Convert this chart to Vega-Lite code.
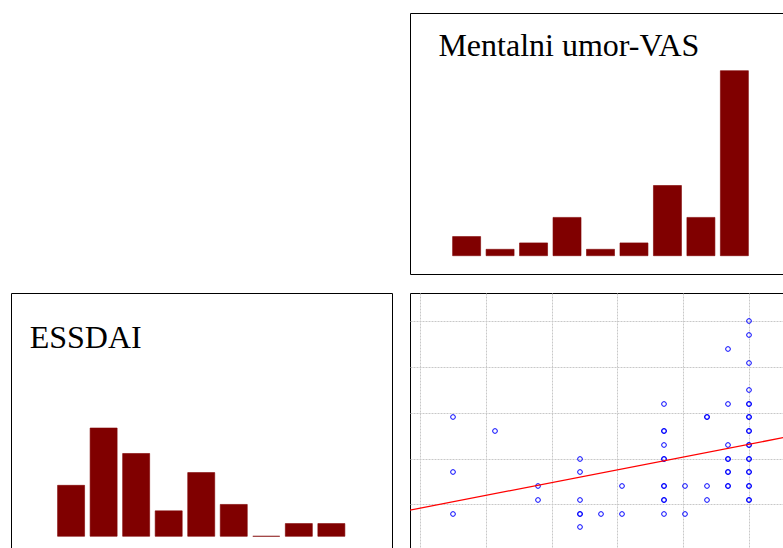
{
  "$schema": "https://vega.github.io/schema/vega-lite/v6.json",
  "padding": {"left": 10, "top": 12, "right": 0, "bottom": 0},
  "background": "white",
  "config": {
    "view": {"stroke": "black", "strokeWidth": 1},
    "axis": {"minExtent": 0, "maxExtent": 0}
  },
  "datasets": {
    "vas_hist": [
      {"bin": 1, "count": 3}, {"bin": 2, "count": 1}, {"bin": 3, "count": 2},
      {"bin": 4, "count": 6}, {"bin": 5, "count": 1}, {"bin": 6, "count": 2},
      {"bin": 7, "count": 11}, {"bin": 8, "count": 6}, {"bin": 9, "count": 29}
    ],
    "essdai_hist": [
      {"bin": 1, "count": 8}, {"bin": 2, "count": 17}, {"bin": 3, "count": 13},
      {"bin": 4, "count": 4}, {"bin": 5, "count": 10}, {"bin": 6, "count": 5},
      {"bin": 7, "count": 0}, {"bin": 8, "count": 2}, {"bin": 9, "count": 2}
    ],
    "scatter": [
      {"vas": 3, "essdai": 8}, {"vas": 3, "essdai": 4}, {"vas": 3, "essdai": 1},
      {"vas": 4, "essdai": 7},
      {"vas": 5, "essdai": 3}, {"vas": 5, "essdai": 2},
      {"vas": 6, "essdai": 5}, {"vas": 6, "essdai": 4}, {"vas": 6, "essdai": 2}, {"vas": 6, "essdai": 1}, {"vas": 6, "essdai": 0}, {"vas": 6, "essdai": 1},
      {"vas": 6.5, "essdai": 1},
      {"vas": 7, "essdai": 3}, {"vas": 7, "essdai": 1},
      {"vas": 8, "essdai": 9}, {"vas": 8, "essdai": 7}, {"vas": 8, "essdai": 6}, {"vas": 8, "essdai": 5}, {"vas": 8, "essdai": 3}, {"vas": 8, "essdai": 2}, {"vas": 8, "essdai": 1},
      {"vas": 8, "essdai": 2}, {"vas": 8, "essdai": 3}, {"vas": 8, "essdai": 5}, {"vas": 8, "essdai": 7},
      {"vas": 8.5, "essdai": 3}, {"vas": 8.5, "essdai": 1},
      {"vas": 9, "essdai": 8}, {"vas": 9, "essdai": 3}, {"vas": 9, "essdai": 2}, {"vas": 9, "essdai": 8},
      {"vas": 9.5, "essdai": 13}, {"vas": 9.5, "essdai": 9}, {"vas": 9.5, "essdai": 6}, {"vas": 9.5, "essdai": 5}, {"vas": 9.5, "essdai": 4}, {"vas": 9.5, "essdai": 3},
      {"vas": 9.5, "essdai": 3}, {"vas": 9.5, "essdai": 4}, {"vas": 9.5, "essdai": 5},
      {"vas": 10, "essdai": 15}, {"vas": 10, "essdai": 14}, {"vas": 10, "essdai": 12}, {"vas": 10, "essdai": 10}, {"vas": 10, "essdai": 9}, {"vas": 10, "essdai": 8},
      {"vas": 10, "essdai": 7}, {"vas": 10, "essdai": 6}, {"vas": 10, "essdai": 5}, {"vas": 10, "essdai": 4}, {"vas": 10, "essdai": 3}, {"vas": 10, "essdai": 2},
      {"vas": 10, "essdai": 2}, {"vas": 10, "essdai": 3}, {"vas": 10, "essdai": 4}, {"vas": 10, "essdai": 5}, {"vas": 10, "essdai": 6},
      {"vas": 10, "essdai": 7}, {"vas": 10, "essdai": 8}, {"vas": 10, "essdai": 9}
    ],
    "fit": [
      {"vas": 1.5, "essdai": 0.997},
      {"vas": 11.5, "essdai": 6.907}
    ]
  },
  "spacing": 17,
  "vconcat": [
    {
      "spacing": 16,
      "hconcat": [
        {
          "width": 381,
          "height": 261,
          "view": {"stroke": "white"},
          "data": {"values": [{"label": ""}]},
          "mark": {"type": "text", "opacity": 0},
          "encoding": {
            "text": {"field": "label"},
            "x": {"datum": 0.5, "type": "quantitative", "scale": {"domain": [0, 1]}, "axis": null},
            "y": {"datum": 0.5, "type": "quantitative", "scale": {"domain": [0, 1]}, "axis": null}
          }
        },
        {
          "width": 381,
          "height": 261,
          "layer": [
            {
              "data": {"name": "vas_hist"},
              "mark": {"type": "bar", "width": 28, "color": "#800000", "stroke": "#800000", "strokeWidth": 0.6},
              "encoding": {
                "x": {"field": "bin", "type": "quantitative", "scale": {"domain": [-0.542, 10.542], "nice": false, "zero": false}, "axis": null},
                "y": {"field": "count", "type": "quantitative", "scale": {"domain": [-2.87, 38.04], "nice": false, "zero": false}, "axis": null},
                "y2": {"datum": 0}
              }
            },
            {
              "data": {"values": [{"label": "Mentalni umor-VAS"}]},
              "mark": {"type": "text", "align": "left", "baseline": "alphabetic", "font": "Liberation Serif", "fontSize": 32, "color": "black"},
              "encoding": {
                "text": {"field": "label"},
                "x": {"datum": 0.157},
                "y": {"datum": 31.35}
              }
            }
          ]
        }
      ]
    },
    {
      "spacing": 16,
      "hconcat": [
        {
          "width": 381,
          "height": 261,
          "layer": [
            {
              "data": {"name": "essdai_hist"},
              "mark": {"type": "bar", "width": 27, "color": "#800000", "stroke": "#800000", "strokeWidth": 0.6},
              "encoding": {
                "x": {"field": "bin", "type": "quantitative", "scale": {"domain": [-0.693, 10.71], "nice": false, "zero": false}, "axis": null},
                "y": {"field": "count", "type": "quantitative", "scale": {"domain": [-2.78, 38.2], "nice": false, "zero": false}, "axis": null},
                "y2": {"datum": 0}
              }
            },
            {
              "data": {"values": [{"label": "ESSDAI"}]},
              "mark": {"type": "text", "align": "left", "baseline": "alphabetic", "font": "Liberation Serif", "fontSize": 32, "color": "black"},
              "encoding": {
                "text": {"field": "label"},
                "x": {"datum": -0.274},
                "y": {"datum": 29.57}
              }
            }
          ]
        },
        {
          "width": 381,
          "height": 261,
          "layer": [
            {
              "data": {"name": "scatter"},
              "mark": {"type": "point", "shape": "circle", "filled": false, "color": "#0000FF", "size": 22, "strokeWidth": 1, "opacity": 1},
              "encoding": {
                "x": {
                  "field": "vas", "type": "quantitative",
                  "scale": {"domain": [1.982, 11.0], "nice": false, "zero": false, "round": true},
                  "axis": {"title": null, "labels": false, "ticks": false, "domain": false, "grid": true,
                    "values": [2.2222, 3, 3.7778, 4.5556, 5.3333, 6.1111, 6.8889, 7.6667, 8.4444, 9.2222, 10, 10.7778],
                    "gridColor": "#C8C8C8", "gridDash": [2, 1], "gridWidth": 1}
                },
                "y": {
                  "field": "essdai", "type": "quantitative",
                  "scale": {"domain": [-1.94, 17.06], "nice": false, "zero": false, "round": true},
                  "axis": {"title": null, "labels": false, "ticks": false, "domain": false, "grid": true,
                    "values": [-1.6667, 0, 1.6667, 3.3333, 5, 6.6667, 8.3333, 10, 11.6667, 13.3333, 15, 16.6667],
                    "gridColor": "#C8C8C8", "gridDash": [2, 1], "gridWidth": 1}
                }
              }
            },
            {
              "data": {"name": "fit"},
              "mark": {"type": "line", "color": "#FF0000", "strokeWidth": 1.3, "clip": true},
              "encoding": {
                "x": {"field": "vas", "type": "quantitative"},
                "y": {"field": "essdai", "type": "quantitative"}
              }
            }
          ]
        }
      ]
    }
  ]
}
